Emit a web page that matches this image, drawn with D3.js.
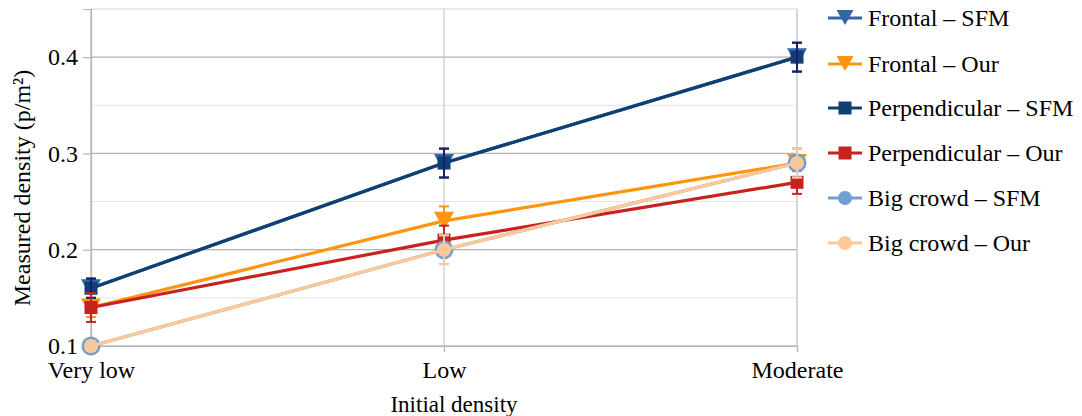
<!DOCTYPE html>
<html><head><meta charset="utf-8">
<script src="https://cdn.jsdelivr.net/npm/d3@7"></script>
<style>body{margin:0;background:#fff}svg{display:block;font-family:"Liberation Serif","DejaVu Serif",serif}</style>
</head><body><svg id="c" width="1082" height="416"></svg>
<script>
const categories = ["Very low", "Low", "Moderate"];
const seriesNames = ["Frontal – SFM", "Frontal – Our", "Perpendicular – SFM", "Perpendicular – Our", "Big crowd – SFM", "Big crowd – Our"];
const frontalSFM = [0.16, 0.29, 0.40];
const frontalOur = [0.14, 0.23, 0.29];
const perpSFM = [0.16, 0.29, 0.40];
const perpOur = [0.14, 0.21, 0.27];
const bigSFM = [0.10, 0.20, 0.29];
const bigOur = [0.10, 0.20, 0.29];
const frontalSFMErr = [0.01, 0.015, 0.015];
const frontalOurErr = [0.01, 0.015, 0.015];
const perpSFMErr = [0.01, 0.015, 0.015];
const perpOurErr = [0.015, 0.015, 0.012];
const bigSFMErr = [0.005, 0.015, 0.015];
const bigOurErr = [0.005, 0.015, 0.015];
const majorTicks = [0.1, 0.2, 0.3, 0.4];
const minorTicks = [0.15, 0.25, 0.35];

const series = [
  {name: seriesNames[0], v: frontalSFM, e: frontalSFMErr, color: "#3465a4", ecolor: "#1f2f80", marker: "tri"},
  {name: seriesNames[1], v: frontalOur, e: frontalOurErr, color: "#ff950e", ecolor: "#ff950e", marker: "tri"},
  {name: seriesNames[2], v: perpSFM, e: perpSFMErr, color: "#0f3f73", ecolor: "#14206e", marker: "sq"},
  {name: seriesNames[3], v: perpOur, e: perpOurErr, color: "#c9211e", ecolor: "#c9211e", marker: "sq"},
  {name: seriesNames[4], v: bigSFM, e: bigSFMErr, color: "#729fcf", ecolor: "#b0bcd0", marker: "circBig"},
  {name: seriesNames[5], v: bigOur, e: bigOurErr, color: "#ffc896", ecolor: "#f0c8a8", marker: "circ"}
];

const svg = d3.select("#c");
const L = 91, R = 797, T = 9, B = 346;
const x = d3.scalePoint().domain(categories).range([L, R]);
const y = d3.scaleLinear().domain([0.1, 0.45]).range([B, T]);

svg.append("g").selectAll("line").data(minorTicks).join("line")
  .attr("x1", L).attr("x2", R).attr("y1", d => y(d)).attr("y2", d => y(d))
  .attr("stroke", "#e3e3e3").attr("stroke-width", 1);
svg.append("rect").attr("x", L).attr("y", T).attr("width", R - L).attr("height", B - T)
  .attr("fill", "none").attr("stroke", "#dcdcdc").attr("stroke-width", 1.2);
svg.append("g").selectAll("line").data(majorTicks).join("line")
  .attr("x1", L).attr("x2", R).attr("y1", d => y(d)).attr("y2", d => y(d))
  .attr("stroke", "#b3b3b3").attr("stroke-width", 1.2);
svg.append("g").selectAll("line").data(categories).join("line")
  .attr("x1", d => x(d)).attr("x2", d => x(d)).attr("y1", T).attr("y2", B)
  .attr("stroke", "#c8c8c8").attr("stroke-width", 1.2);

const yAxis = d3.axisLeft(y).tickValues(majorTicks).tickFormat(d3.format(".1f")).tickSize(8).tickPadding(5);
const gy = svg.append("g").attr("transform", `translate(${L},0)`).call(yAxis);
gy.select(".domain").attr("stroke", "#b3b3b3").attr("stroke-width", 1.2);
gy.selectAll(".tick line").attr("stroke", "#b3b3b3").attr("stroke-width", 1.2);
gy.selectAll("text").attr("font-size", 24).attr("fill", "#000").attr("font-family", "Liberation Serif");

const xAxis = d3.axisBottom(x).tickSize(6).tickPadding(9);
const gx = svg.append("g").attr("transform", `translate(0,${B})`).call(xAxis);
gx.select(".domain").attr("stroke", "#b3b3b3").attr("stroke-width", 1.2);
gx.selectAll(".tick line").attr("stroke", "#b3b3b3").attr("stroke-width", 1.2);
gx.selectAll("text").attr("font-size", 24).attr("fill", "#000").attr("font-family", "Liberation Serif");

svg.append("text").attr("x", 454).attr("y", 412).attr("text-anchor", "middle")
  .attr("font-size", 23).text("Initial density");
svg.append("text").attr("transform", "translate(30,188) rotate(-90)").attr("text-anchor", "middle")
  .attr("font-size", 24).text("Measured density (p/m²)");

function drawMarker(g, type, color, cx, cy, big) {
  if (type === "tri") {
    const w = big ? 10 : 8.5, h1 = big ? 9 : 8, h2 = big ? 9 : 7;
    g.append("path").attr("d", `M${cx-w},${cy-h1}L${cx+w},${cy-h1}L${cx},${cy+h2}Z`).attr("fill", color);
  } else if (type === "sq") {
    g.append("rect").attr("x", cx-6.5).attr("y", cy-6.5).attr("width", 13).attr("height", 13).attr("fill", color);
  } else if (type === "circBig") {
    g.append("circle").attr("cx", cx).attr("cy", cy).attr("r", 9.5).attr("fill", color);
  } else {
    g.append("circle").attr("cx", cx).attr("cy", cy).attr("r", 7).attr("fill", color);
  }
}

const line = d3.line().x((d, i) => x(categories[i])).y(d => y(d));
series.forEach(s => {
  const g = svg.append("g");
  g.append("path").datum(s.v).attr("d", line).attr("fill", "none")
    .attr("stroke", s.color).attr("stroke-width", 3.2).attr("stroke-linejoin", "round");
  s.v.forEach((v, i) => {
    const cx = x(categories[i]);
    drawMarker(g, s.marker, s.color, cx, y(v), true);
    const y1 = y(v + s.e[i]), y2 = y(v - s.e[i]);
    g.append("line").attr("x1", cx).attr("x2", cx).attr("y1", y1).attr("y2", y2).attr("stroke", s.ecolor).attr("stroke-width", 2);
    [y1, y2].forEach(yy => g.append("line").attr("x1", cx-5).attr("x2", cx+5).attr("y1", yy).attr("y2", yy).attr("stroke", s.ecolor).attr("stroke-width", 2));
  });
});

const legY = [18, 64, 108, 153, 198, 243];
series.forEach((s, i) => {
  const g = svg.append("g");
  const yy = legY[i];
  g.append("line").attr("x1", 828).attr("x2", 862).attr("y1", yy).attr("y2", yy).attr("stroke", s.color).attr("stroke-width", 3);
  drawMarker(g, s.marker === "circBig" ? "circ" : s.marker, s.color, 845, yy, false);
  g.append("text").attr("x", 868).attr("y", yy + 8).attr("font-size", 24).text(s.name);
});
</script></body></html>
